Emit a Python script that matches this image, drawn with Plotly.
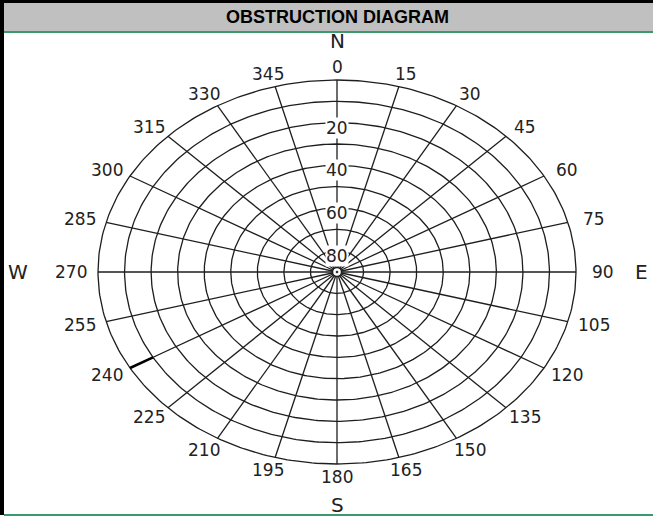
import numpy as np
import plotly.graph_objects as go

# altitude rings (degrees above horizon) and azimuth spokes (degrees from north)
ring_alts = [0, 10, 20, 30, 40, 50, 60, 70, 80]
ring_labels = [20, 40, 60, 80]
azimuths = list(range(0, 360, 15))
azimuth_labels = [str(a) for a in azimuths]
compass = ["N", "E", "S", "W"]
compass_az = [0, 90, 180, 270]
# obstruction segment: azimuth, from altitude, to altitude
obstruction_az = [240]
obstruction_from = [0]
obstruction_to = [10]

W, H = 653, 517
CX, CY = 337, 272      # centre of diagram, px
RX, RY = 239, 192      # horizon ellipse radii, px


def px_x(px):
    return (px - CX) / RX


def px_y(px):
    return (CY - px) / RY


def pos(alt, az):
    u = (90 - alt) / 90.0
    a = np.radians(az)
    return u * np.sin(a), u * np.cos(a)


line_col = "#1e1e1e"
fig = go.Figure()

# rings
t = np.linspace(0, 360, 361)
for alt in ring_alts:
    x, y = pos(alt, t)
    fig.add_trace(go.Scatter(x=x, y=y, mode="lines",
                             line=dict(color=line_col, width=1.3),
                             hoverinfo="skip", showlegend=False))

# spokes
for az in azimuths:
    x0, y0 = pos(90, az)
    x1, y1 = pos(0, az)
    fig.add_trace(go.Scatter(x=[x0, x1], y=[y0, y1], mode="lines",
                             line=dict(color=line_col, width=1.3),
                             hoverinfo="skip", showlegend=False))

# obstruction marker
for az, a0, a1 in zip(obstruction_az, obstruction_from, obstruction_to):
    x0, y0 = pos(a0, az)
    x1, y1 = pos(a1, az)
    fig.add_trace(go.Scatter(x=[x0, x1], y=[y0, y1], mode="lines",
                             line=dict(color="black", width=2.6),
                             hoverinfo="skip", showlegend=False))

# centre marker
fig.add_trace(go.Scatter(x=[0], y=[0], mode="markers",
                         marker=dict(symbol="circle-dot", size=9, color="white",
                                     line=dict(color=line_col, width=1.5)),
                         hoverinfo="skip", showlegend=False))

lbl_font = dict(family="DejaVu Sans", size=17, color="#222")

# altitude labels on the north spoke
for alt in ring_labels:
    _, y = pos(alt, 0)
    fig.add_annotation(x=0, y=y, text=str(alt), showarrow=False,
                       font=lbl_font, bgcolor="white", borderpad=0,
                       yshift=-5)

# azimuth labels
LX, LY = 266 / RX, 205 / RY
for az, txt in zip(azimuths, azimuth_labels):
    a = np.radians(az)
    fig.add_annotation(x=LX * np.sin(a), y=LY * np.cos(a), text=txt,
                       showarrow=False, font=lbl_font)

# compass letters
compass_pos = {"N": (CX, 41), "E": (641, CY), "S": (CX, 505), "W": (18, CY)}
for c in compass:
    px, py = compass_pos[c]
    fig.add_annotation(x=px_x(px), y=px_y(py), text=c, showarrow=False,
                       font=dict(family="DejaVu Sans", size=20, color="#222"))


def rect(x0, y0, x1, y1, color, layer="above"):
    fig.add_shape(type="rect", xref="paper", yref="paper",
                  x0=x0 / W, x1=x1 / W, y0=1 - y1 / H, y1=1 - y0 / H,
                  fillcolor=color, line=dict(width=0), layer=layer)


# frame / title band
rect(4, 3, W, 31, "#C0C0C0", layer="below")
rect(0, 0, W, 3, "black")
rect(0, 0, 4, 515, "black")
rect(4, 31, W, 33, "#3A9A6C")
rect(4, 514, W, 516, "#3A9A6C")

fig.add_annotation(xref="paper", yref="paper", x=CX / W, y=1 - 17 / H,
                   xanchor="center", yanchor="middle",
                   text="<b>OBSTRUCTION DIAGRAM</b>", showarrow=False,
                   font=dict(family="Liberation Sans", size=18, color="black"))

fig.update_layout(
    width=W, height=H,
    margin=dict(l=0, r=0, t=0, b=0),
    paper_bgcolor="white", plot_bgcolor="white",
    xaxis=dict(range=[px_x(0), px_x(W)], visible=False, fixedrange=True),
    yaxis=dict(range=[px_y(H), px_y(0)], visible=False, fixedrange=True),
)

fig.write_html("out.html", config={"displayModeBar": False},
               post_script="document.body.style.margin='0';"
                           "document.body.style.overflow='hidden';")
